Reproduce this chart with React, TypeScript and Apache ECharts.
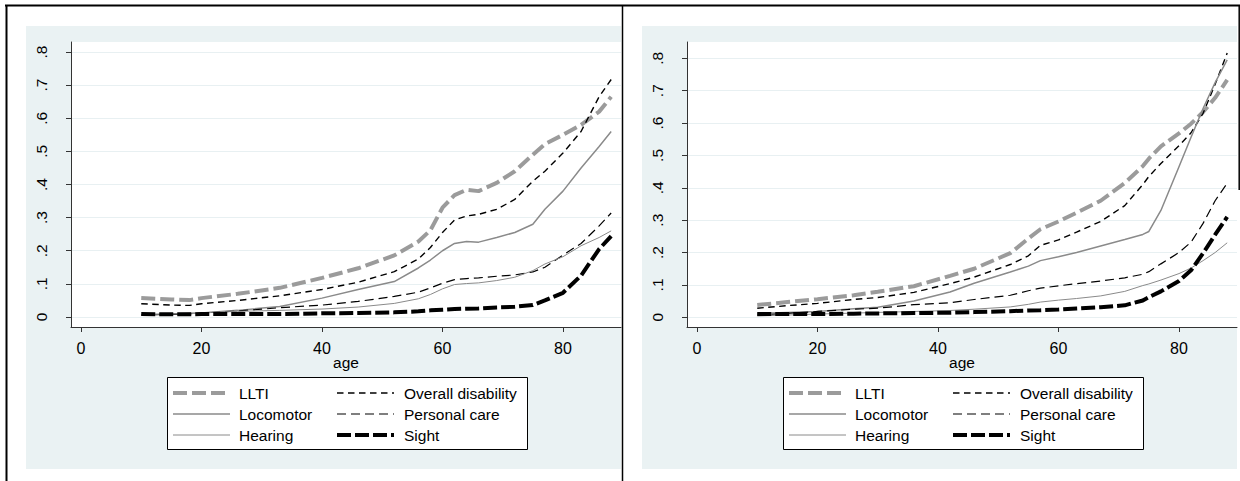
import React, { useEffect, useRef } from "react";
import * as echarts from "echarts";

// ---------- data ----------
const seriesNames = ["LLTI", "Overall disability", "Locomotor", "Personal care", "Hearing", "Sight"];
const xTicks = [0, 20, 40, 60, 80];
const yTicks = [0, 0.1, 0.2, 0.3, 0.4, 0.5, 0.6, 0.7, 0.8];

// left panel
const agesL = [10, 15, 18, 20, 26, 33, 40, 46, 52, 56, 58, 60, 62, 64, 66, 69, 72, 75, 77, 80, 83, 86, 88];
const llItiL = [0.057, 0.053, 0.051, 0.057, 0.07, 0.088, 0.118, 0.147, 0.186, 0.228, 0.262, 0.33, 0.368, 0.384, 0.38, 0.405, 0.44, 0.49, 0.522, 0.55, 0.58, 0.62, 0.665];
const overallL = [0.04, 0.036, 0.035, 0.04, 0.05, 0.064, 0.083, 0.105, 0.137, 0.175, 0.21, 0.255, 0.293, 0.305, 0.31, 0.325, 0.355, 0.41, 0.44, 0.495, 0.56, 0.665, 0.717];
const locomotorL = [0.007, 0.009, 0.011, 0.012, 0.02, 0.032, 0.057, 0.083, 0.107, 0.148, 0.172, 0.2, 0.222, 0.228, 0.226, 0.24, 0.255, 0.28, 0.325, 0.38, 0.45, 0.515, 0.56];
const personalL = [0.006, 0.008, 0.01, 0.012, 0.018, 0.028, 0.036, 0.047, 0.062, 0.075, 0.088, 0.102, 0.113, 0.116, 0.118, 0.123, 0.127, 0.136, 0.15, 0.187, 0.222, 0.275, 0.314];
const hearingL = [0.007, 0.009, 0.011, 0.013, 0.017, 0.02, 0.024, 0.03, 0.041, 0.055, 0.068, 0.085, 0.098, 0.101, 0.103, 0.11, 0.12, 0.14, 0.16, 0.182, 0.215, 0.24, 0.26];
const sightL = [0.009, 0.008, 0.008, 0.009, 0.009, 0.009, 0.011, 0.012, 0.014, 0.017, 0.02, 0.022, 0.024, 0.025, 0.026, 0.029, 0.031, 0.036, 0.05, 0.073, 0.125, 0.205, 0.244];

// right panel
const agesR = [10, 15, 20, 26, 30, 36, 42, 46, 52, 55, 57, 60, 63, 67, 71, 74, 75, 77, 80, 82, 84, 86, 88];
const llItiR = [0.038, 0.047, 0.056, 0.068, 0.079, 0.096, 0.128, 0.15, 0.198, 0.243, 0.272, 0.296, 0.323, 0.36, 0.415, 0.467, 0.49, 0.528, 0.568, 0.598, 0.634, 0.678, 0.733];
const overallR = [0.028, 0.036, 0.043, 0.055, 0.061, 0.077, 0.104, 0.124, 0.163, 0.19, 0.222, 0.239, 0.263, 0.296, 0.345, 0.41, 0.435, 0.475, 0.53, 0.57, 0.63, 0.72, 0.816];
const locomotorR = [0.012, 0.015, 0.018, 0.026, 0.031, 0.05, 0.078, 0.105, 0.14, 0.158, 0.175, 0.187, 0.2, 0.22, 0.24, 0.256, 0.265, 0.33, 0.465, 0.556, 0.645, 0.725, 0.795];
const personalR = [0.007, 0.012, 0.018, 0.025, 0.028, 0.039, 0.045, 0.055, 0.068, 0.082, 0.09, 0.097, 0.104, 0.112, 0.122, 0.133, 0.141, 0.165, 0.2, 0.232, 0.29, 0.36, 0.414];
const hearingR = [0.004, 0.007, 0.01, 0.013, 0.015, 0.018, 0.021, 0.025, 0.032, 0.04, 0.047, 0.053, 0.058, 0.066, 0.08, 0.098, 0.103, 0.115, 0.135, 0.152, 0.175, 0.2, 0.23];
const sightR = [0.01, 0.01, 0.01, 0.011, 0.012, 0.013, 0.014, 0.016, 0.019, 0.021, 0.022, 0.024, 0.027, 0.031, 0.037, 0.052, 0.062, 0.08, 0.112, 0.145, 0.198, 0.255, 0.31];

// ---------- styles ----------
const FONT = "'Liberation Sans', Arial, Helvetica, sans-serif";
const lineStyles = [
  { color: "#9b9b9b", width: 4, type: [14, 5] as any },
  { color: "#000000", width: 1.4, type: [6.5, 4.5] as any },
  { color: "#8a8a8a", width: 1.5, type: "solid" as any },
  { color: "#000000", width: 1.2, type: [9, 5] as any },
  { color: "#8a8a8a", width: 1, type: "solid" as any },
  { color: "#000000", width: 4, type: [14, 4] as any },
];

const panels = [
  { ages: agesL, vals: [llItiL, overallL, locomotorL, personalL, hearingL, sightL], offset: 0, yMin: -0.0302, yMax: 0.8302 },
  { ages: agesR, vals: [llItiR, overallR, locomotorR, personalR, hearingR, sightR], offset: 616, yMin: -0.030, yMax: 0.8503 },
];

const yFmt = (v: number) => (Math.abs(v) < 1e-9 ? "0" : String(Math.round(v * 10) / 10).replace(/^0\./, "."));

export default function App() {
  const ref = useRef<HTMLDivElement>(null);
  useEffect(() => {
    if (!ref.current) return;
    const chart = echarts.init(ref.current, undefined, { renderer: "svg" });

    const grids: any[] = [];
    const xAxes: any[] = [];
    const yAxes: any[] = [];
    const series: any[] = [];
    const graphics: any[] = [];

    panels.forEach((p, pi) => {
      const o = p.offset;
      grids.push({ left: 71 + o, top: 42, width: 550, height: 285, show: true, backgroundColor: "#ffffff", borderWidth: 0 });
      xAxes.push({
        gridIndex: pi, type: "value", min: -1.66, max: 89.63,
        axisLine: { show: true, onZero: false, lineStyle: { color: "#333", width: 1 } },
        axisTick: { show: true, length: 5, customValues: xTicks, lineStyle: { color: "#333" } },
        axisLabel: { customValues: xTicks, color: "#000", fontSize: 16, fontFamily: FONT, margin: 13 },
        splitLine: { show: false },
        name: "age", nameLocation: "middle", nameGap: 27, nameMoveOverlap: false,
        nameTextStyle: { color: "#000", fontSize: 15.5, fontFamily: FONT },
      });
      yAxes.push({
        gridIndex: pi, type: "value", min: p.yMin, max: p.yMax,
        axisLine: { show: true, onZero: false, lineStyle: { color: "#333", width: 1 } },
        axisTick: { show: true, length: 5, customValues: yTicks, lineStyle: { color: "#333" } },
        axisLabel: { customValues: yTicks, rotate: 90, color: "#000", fontSize: 15.5, fontFamily: FONT, margin: 22, formatter: yFmt },
        splitLine: { show: true, lineStyle: { color: "#e8f0f2", width: 1 } },
      });
      p.vals.forEach((vals, si) => {
        const ls = lineStyles[si];
        series.push({
          type: "line", name: seriesNames[si], xAxisIndex: pi, yAxisIndex: pi,
          data: p.ages.map((a, i) => [a, vals[i]]),
          showSymbol: false, symbol: "none", smooth: false,
          lineStyle: { color: ls.color, width: ls.width, type: ls.type },
          itemStyle: { color: ls.color },
          z: 2 + (si === 5 ? 1 : 0),
        });
      });

      // background
      graphics.push({ type: "rect", z: -10, shape: { x: 26 + o, y: 26, width: 595, height: 443 }, style: { fill: "#eaf2f3" }, silent: true });
      // legend box
      graphics.push({ type: "rect", z: 10, shape: { x: 167.5 + o, y: 377.5, width: 360, height: 72 }, style: { fill: "#ffffff", stroke: "#000", lineWidth: 1 } });
      seriesNames.forEach((nm, si) => {
        const row = Math.floor(si / 2);
        const col = si % 2;
        const yy = 393 + row * 21;
        const lx = (col === 0 ? 173 : 337) + o;
        const tx = (col === 0 ? 239 : 404) + o;
        const ls = lineStyles[si];
        graphics.push({
          type: "line", z: 11,
          shape: { x1: lx, y1: yy, x2: lx + 57, y2: yy },
          style: { stroke: ls.color, lineWidth: ls.width, lineDash: Array.isArray(ls.type) ? ls.type : null },
        });
        graphics.push({
          type: "text", z: 11, x: tx, y: yy,
          style: { text: nm, fill: "#000", font: `15.5px ${FONT}`, verticalAlign: "middle", align: "left" },
        });
      });
    });

    // frame borders
    graphics.push({ type: "line", z: 20, shape: { x1: 5, y1: 5.5, x2: 1240, y2: 5.5 }, style: { stroke: "#000", lineWidth: 2 } });
    graphics.push({ type: "line", z: 20, shape: { x1: 6.5, y1: 5, x2: 6.5, y2: 481 }, style: { stroke: "#000", lineWidth: 2 } });
    graphics.push({ type: "line", z: 20, shape: { x1: 622.5, y1: 5, x2: 622.5, y2: 481 }, style: { stroke: "#000", lineWidth: 1.5 } });
    graphics.push({ type: "line", z: 20, shape: { x1: 1239.2, y1: 5, x2: 1239.2, y2: 190 }, style: { stroke: "#000", lineWidth: 1.5 } });

    chart.setOption({
      animation: false,
      backgroundColor: "#ffffff",
      grid: grids,
      xAxis: xAxes,
      yAxis: yAxes,
      series,
      graphic: graphics,
    });
    return () => chart.dispose();
  }, []);
  return <div ref={ref} style={{ position: "fixed", left: 0, top: 0, width: 1240, height: 481 }} />;
}
